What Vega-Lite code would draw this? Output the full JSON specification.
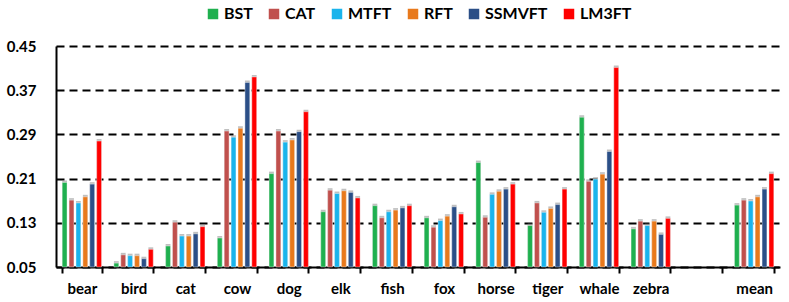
{
  "$schema": "https://vega.github.io/schema/vega-lite/v6.json",
  "autosize": "none",
  "width": 724,
  "height": 221,
  "padding": {"left": 56, "top": 46, "right": 9, "bottom": 35},
  "background": "white",
  "config": {
    "font": "Lato",
    "view": {"stroke": null},
    "legend": {"layout": {"top": {"anchor": "middle"}}}
  },
  "data": {"values": [
    {"c":"bear","m":"BST","v":0.203},{"c":"bear","m":"CAT","v":0.171},{"c":"bear","m":"MTFT","v":0.166},{"c":"bear","m":"RFT","v":0.177},{"c":"bear","m":"SSMVFT","v":0.200},{"c":"bear","m":"LM3FT","v":0.278},
    {"c":"bird","m":"BST","v":0.057},{"c":"bird","m":"CAT","v":0.072},{"c":"bird","m":"MTFT","v":0.0705},{"c":"bird","m":"RFT","v":0.0705},{"c":"bird","m":"SSMVFT","v":0.065},{"c":"bird","m":"LM3FT","v":0.082},
    {"c":"cat","m":"BST","v":0.088},{"c":"cat","m":"CAT","v":0.131},{"c":"cat","m":"MTFT","v":0.106},{"c":"cat","m":"RFT","v":0.106},{"c":"cat","m":"SSMVFT","v":0.110},{"c":"cat","m":"LM3FT","v":0.123},
    {"c":"cow","m":"BST","v":0.1025},{"c":"cow","m":"CAT","v":0.296},{"c":"cow","m":"MTFT","v":0.285},{"c":"cow","m":"RFT","v":0.301},{"c":"cow","m":"SSMVFT","v":0.384},{"c":"cow","m":"LM3FT","v":0.394},
    {"c":"dog","m":"BST","v":0.219},{"c":"dog","m":"CAT","v":0.296},{"c":"dog","m":"MTFT","v":0.276},{"c":"dog","m":"RFT","v":0.280},{"c":"dog","m":"SSMVFT","v":0.295},{"c":"dog","m":"LM3FT","v":0.331},
    {"c":"elk","m":"BST","v":0.150},{"c":"elk","m":"CAT","v":0.189},{"c":"elk","m":"MTFT","v":0.183},{"c":"elk","m":"RFT","v":0.188},{"c":"elk","m":"SSMVFT","v":0.185},{"c":"elk","m":"LM3FT","v":0.175},
    {"c":"fish","m":"BST","v":0.161},{"c":"fish","m":"CAT","v":0.139},{"c":"fish","m":"MTFT","v":0.150},{"c":"fish","m":"RFT","v":0.153},{"c":"fish","m":"SSMVFT","v":0.157},{"c":"fish","m":"LM3FT","v":0.161},
    {"c":"fox","m":"BST","v":0.139},{"c":"fox","m":"CAT","v":0.122},{"c":"fox","m":"MTFT","v":0.134},{"c":"fox","m":"RFT","v":0.142},{"c":"fox","m":"SSMVFT","v":0.159},{"c":"fox","m":"LM3FT","v":0.146},
    {"c":"horse","m":"BST","v":0.239},{"c":"horse","m":"CAT","v":0.140},{"c":"horse","m":"MTFT","v":0.1815},{"c":"horse","m":"RFT","v":0.187},{"c":"horse","m":"SSMVFT","v":0.191},{"c":"horse","m":"LM3FT","v":0.200},
    {"c":"tiger","m":"BST","v":0.125},{"c":"tiger","m":"CAT","v":0.166},{"c":"tiger","m":"MTFT","v":0.149},{"c":"tiger","m":"RFT","v":0.156},{"c":"tiger","m":"SSMVFT","v":0.163},{"c":"tiger","m":"LM3FT","v":0.191},
    {"c":"whale","m":"BST","v":0.321},{"c":"whale","m":"CAT","v":0.205},{"c":"whale","m":"MTFT","v":0.209},{"c":"whale","m":"RFT","v":0.218},{"c":"whale","m":"SSMVFT","v":0.259},{"c":"whale","m":"LM3FT","v":0.411},
    {"c":"zebra","m":"BST","v":0.119},{"c":"zebra","m":"CAT","v":0.133},{"c":"zebra","m":"MTFT","v":0.125},{"c":"zebra","m":"RFT","v":0.133},{"c":"zebra","m":"SSMVFT","v":0.109},{"c":"zebra","m":"LM3FT","v":0.138},
    {"c":"mean","m":"BST","v":0.162},{"c":"mean","m":"CAT","v":0.171},{"c":"mean","m":"MTFT","v":0.1695},{"c":"mean","m":"RFT","v":0.177},{"c":"mean","m":"SSMVFT","v":0.191},{"c":"mean","m":"LM3FT","v":0.219}
  ]},
  "encoding": {
    "x": {
      "field": "c", "type": "nominal", "sort": null,
      "scale": {"domain": ["bear","bird","cat","cow","dog","elk","fish","fox","horse","tiger","whale","zebra"," ","mean"], "paddingInner": 0.24, "paddingOuter": 0.12},
      "axis": {"title": null, "labelAngle": 0, "labelFont": "Lato", "labelFontWeight": "bold", "labelFontSize": 15, "labelColor": "black", "labelPadding": 8, "domainColor": "black", "domainWidth": 2, "tickColor": "black", "tickWidth": 2, "tickSize": 6, "tickBand": "extent", "grid": false}
    },
    "xOffset": {"field": "m", "type": "nominal", "sort": ["BST","CAT","MTFT","RFT","SSMVFT","LM3FT"], "scale": {"paddingInner": 0.3}},
    "y": {
      "field": "v", "type": "quantitative",
      "scale": {"domain": [0.05, 0.45], "zero": false, "nice": false},
      "axis": {"title": null, "values": [0.05,0.13,0.21,0.29,0.37,0.45], "format": ".2f", "labelFont": "Lato", "labelFontWeight": "bold", "labelFontSize": 15, "labelColor": "black", "labelPadding": 20, "ticks": false, "domainColor": "black", "domainWidth": 2, "grid": true, "gridColor": "black", "gridWidth": 2, "gridDash": [8, 5], "gridOpacity": 1}
    },
    "y2": {"datum": 0.05}
  },
  "layer": [
    {
      "mark": {"type": "bar", "color": "#8c8c8c", "opacity": 0.55, "xOffset": -2.5, "yOffset": -2},
      "encoding": {}
    },
    {
      "mark": {"type": "bar", "stroke": "white", "strokeWidth": 0.4},
      "encoding": {
        "color": {
          "field": "m", "type": "nominal",
          "sort": ["BST","CAT","MTFT","RFT","SSMVFT","LM3FT"],
          "scale": {"domain": ["BST","CAT","MTFT","RFT","SSMVFT","LM3FT"], "range": ["#1fb04f","#c0504d","#1ab4ec","#e8791c","#2b4f87","#ff0000"]},
          "legend": {"title": null, "orient": "top", "direction": "horizontal", "offset": 24, "symbolType": "square", "symbolSize": 110, "symbolStrokeWidth": 0, "labelFont": "Lato", "labelFontWeight": "bold", "labelFontSize": 16, "labelColor": "black", "columnPadding": 13, "labelOffset": 3}
        }
      }
    }
  ]
}
